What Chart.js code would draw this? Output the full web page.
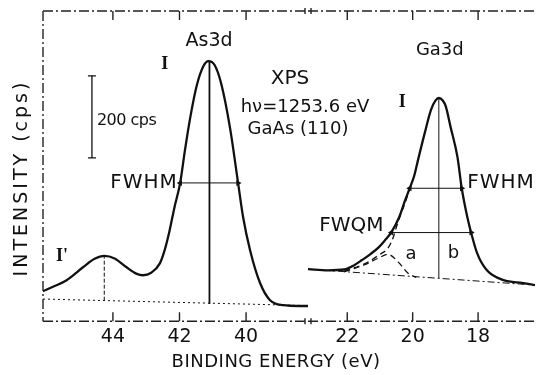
<!DOCTYPE html>
<html>
<head>
<meta charset="utf-8">
<script src="https://cdn.jsdelivr.net/npm/chart.js@4"></script>
<style>
  html, body { margin: 0; padding: 0; background: #fff; }
  #wrap { position: relative; width: 539px; height: 375px; }
  #wrap canvas { position: absolute; left: 0; top: 0; }
</style>
</head>
<body>
<div id="wrap">
  <canvas id="asPanel" width="539" height="375"></canvas>
  <canvas id="gaPanel" width="539" height="375"></canvas>
</div>
<script>
// x: binding energy (eV), y: intensity (cps above the lower frame)
const leftTicks = [44, 42, 40];
const rightTicks = [22, 20, 18];

// As 3d spectrum
const asEnergy = [46.10, 45.80, 45.39, 44.89, 44.55, 44.26, 43.95, 43.60, 43.30, 43.10, 42.85, 42.59, 42.45, 42.30, 42.15, 41.98, 41.83, 41.68, 41.48, 41.28, 41.13, 40.95, 40.75, 40.48, 40.24, 40.09, 39.88, 39.58, 39.28, 38.89, 38.38, 38.14];
const asCounts = [73, 84, 100, 132, 152, 159, 153, 132, 116, 112, 118, 141, 172, 220, 278, 337, 420, 495, 575, 622, 634, 625, 580, 470, 337, 254, 173, 93, 51, 39, 37, 37];
const asBaseEnergy = [46.10, 38.14];
const asBaseCounts = [54, 38];
const asSatLineEnergy = [44.26, 44.26];
const asSatLineCounts = [50, 159];
const asPeakLineEnergy = [41.10, 41.10];
const asPeakLineCounts = [42, 634];
const asFwhmEnergy = [41.98, 40.24];
const asFwhmCounts = [337, 337];
const scaleBarEnergy = [44.63, 44.63];
const scaleBarCounts = [398, 598];

// Ga 3d spectrum
const gaEnergy = [23.20, 22.60, 22.09, 21.80, 21.55, 21.30, 21.04, 20.85, 20.65, 20.41, 20.23, 20.09, 19.95, 19.83, 19.63, 19.44, 19.30, 19.20, 19.08, 18.99, 18.84, 18.63, 18.50, 18.33, 18.21, 18.03, 17.73, 17.22, 16.62, 16.26];
const gaCounts = [127, 124, 126, 136, 149, 163, 180, 197, 217, 254, 295, 324, 355, 395, 459, 515, 538, 544, 538, 524, 473, 400, 324, 254, 215, 166, 124, 100, 93, 88];
const gaBulkEnergy = [22.09, 21.44, 21.04, 20.74, 20.59, 20.50, 20.35, 20.20, 20.09];
const gaBulkCounts = [122, 141, 161, 180, 205, 229, 263, 295, 324];
const gaSurfEnergy = [22.09, 21.49, 21.04, 20.74, 20.44, 20.14, 19.89];
const gaSurfCounts = [120, 137, 154, 163, 144, 117, 107];
const gaBaseEnergy = [23.20, 16.26];
const gaBaseCounts = [127, 88];
const gaPeakLineEnergy = [19.20, 19.20];
const gaPeakLineCounts = [105, 544];
const gaFwhmEnergy = [20.09, 18.50];
const gaFwhmCounts = [324, 324];
const gaFwqmEnergy = [20.65, 18.21];
const gaFwqmCounts = [216, 216];

const INK = "#111";
const FONT = "'DejaVu Sans'";
const ROMAN = "bold 18px 'Liberation Serif'";
Chart.defaults.font.family = FONT;
Chart.defaults.color = INK;

function pts(xs, ys) {
  return xs.map((v, i) => ({ x: v, y: ys[i] }));
}

function line(xs, ys, extra) {
  return Object.assign({
    data: pts(xs, ys),
    showLine: true,
    borderColor: INK,
    backgroundColor: INK,
    borderWidth: 1,
    pointRadius: 0,
    fill: false
  }, extra);
}

function arrow(xs, ys) {
  return line(xs, ys, {
    pointStyle: "triangle",
    pointRadius: 3.5,
    pointRotation: [-90, 90],
    pointBackgroundColor: INK,
    pointBorderColor: INK,
    pointBorderWidth: 0
  });
}

// dash-dot frame, inward ticks, axis break
const frame = {
  id: "frame",
  beforeDatasetsDraw(chart, args, opts) {
    const { ctx, chartArea: a, scales: { x } } = chart;
    ctx.save();
    ctx.strokeStyle = "#222";
    ctx.lineWidth = 1.4;
    ctx.setLineDash([10, 3, 2, 3]);
    ctx.beginPath();
    ctx.moveTo(a.left, a.top); ctx.lineTo(a.right, a.top);
    ctx.moveTo(a.left, a.bottom); ctx.lineTo(a.right, a.bottom);
    if (opts.leftEdge) { ctx.moveTo(a.left, a.top); ctx.lineTo(a.left, a.bottom); }
    ctx.stroke();
    ctx.setLineDash([]);
    ctx.beginPath();
    for (const t of x.ticks) {
      const px = x.getPixelForValue(t.value);
      ctx.moveTo(px, a.top); ctx.lineTo(px, a.top + 9);
      ctx.moveTo(px, a.bottom); ctx.lineTo(px, a.bottom - 9);
    }
    if (opts.breakRight) {
      for (const yy of [a.top, a.bottom]) {
        ctx.moveTo(a.right - 3, yy - 3); ctx.lineTo(a.right - 3, yy + 3);
        ctx.moveTo(a.right + 3, yy - 3); ctx.lineTo(a.right + 3, yy + 3);
      }
    }
    ctx.stroke();
    ctx.restore();
  }
};

// text notes placed at data coordinates
const notes = {
  id: "notes",
  afterDatasetsDraw(chart, args, opts) {
    const { ctx, chartArea: a, scales: { x, y } } = chart;
    ctx.save();
    ctx.fillStyle = INK;
    ctx.textBaseline = "middle";
    for (const n of opts.items || []) {
      ctx.font = n.font || "18px " + FONT;
      ctx.textAlign = n.align || "center";
      ctx.letterSpacing = (n.spacing || 0) + "px";
      ctx.fillText(n.text, x.getPixelForValue(n.at[0]), y.getPixelForValue(n.at[1]));
    }
    if (opts.yTitle) {
      ctx.font = "19px " + FONT;
      ctx.textAlign = "center";
      ctx.letterSpacing = "3px";
      ctx.translate(a.left - 21, y.getPixelForValue(opts.yTitle.at));
      ctx.rotate(-Math.PI / 2);
      ctx.fillText(opts.yTitle.text, 0, 0);
    }
    ctx.restore();
  }
};

function xScale(min, max, ticks) {
  return {
    type: "linear",
    min: min,
    max: max,
    reverse: true,
    grid: { display: false, drawTicks: false },
    border: { display: false },
    afterBuildTicks: (s) => { s.ticks = ticks.map((v) => ({ value: v })); },
    ticks: { font: { size: 19 }, color: INK, padding: 4 }
  };
}

const yScale = { type: "linear", min: 0, max: 756, display: false };
const PAD_BOTTOM = 23;

new Chart(document.getElementById("asPanel"), {
  type: "scatter",
  data: {
    datasets: [
      line(asEnergy, asCounts, { borderWidth: 2.3, cubicInterpolationMode: "monotone" }),
      line(asBaseEnergy, asBaseCounts, { borderDash: [2, 3] }),
      line(asSatLineEnergy, asSatLineCounts, { borderDash: [4, 2] }),
      line(asPeakLineEnergy, asPeakLineCounts, { borderWidth: 1.8 }),
      arrow(asFwhmEnergy, asFwhmCounts),
      line(scaleBarEnergy, scaleBarCounts, { pointStyle: "line", pointRadius: 4, pointBorderWidth: 1.3, borderWidth: 1.3 })
    ]
  },
  options: {
    responsive: false,
    animation: false,
    devicePixelRatio: 1,
    layout: { padding: { left: 43, right: 231, top: 11, bottom: PAD_BOTTOM } },
    scales: { x: xScale(38.14, 46.10, leftTicks), y: yScale },
    plugins: {
      legend: { display: false },
      tooltip: { enabled: false },
      frame: { leftEdge: true, breakRight: true },
      notes: {
        yTitle: { text: "INTENSITY (cps)", at: 349 },
        items: [
          { text: "As3d", at: [41.11, 683], font: "19px " + FONT },
          { text: "I", at: [42.44, 627], font: ROMAN },
          { text: "XPS", at: [38.68, 590], font: "20px " + FONT },
          { text: "h\u03bd=1253.6 eV", at: [38.23, 522] },
          { text: "GaAs (110)", at: [38.44, 468] },
          { text: "200 cps", at: [44.48, 488], align: "left", font: "16px " + FONT, spacing: -0.5 },
          { text: "FWHM", at: [42.05, 337], align: "right", font: "20px " + FONT, spacing: 1 },
          { text: "I'", at: [45.53, 159], font: ROMAN },
          { text: "BINDING ENERGY (eV)", at: [39.1, -100], spacing: 0.5 }
        ]
      }
    }
  },
  plugins: [frame, notes]
});

new Chart(document.getElementById("gaPanel"), {
  type: "scatter",
  data: {
    datasets: [
      line(gaEnergy, gaCounts, { borderWidth: 2.3, cubicInterpolationMode: "monotone" }),
      line(gaBaseEnergy, gaBaseCounts, { borderDash: [7, 3, 2, 3] }),
      line(gaBulkEnergy, gaBulkCounts, { borderWidth: 1.3, borderDash: [6, 4], cubicInterpolationMode: "monotone" }),
      line(gaSurfEnergy, gaSurfCounts, { borderWidth: 1.3, borderDash: [6, 4], tension: 0.35 }),
      line(gaPeakLineEnergy, gaPeakLineCounts),
      arrow(gaFwhmEnergy, gaFwhmCounts),
      arrow(gaFwqmEnergy, gaFwqmCounts)
    ]
  },
  options: {
    responsive: false,
    animation: false,
    devicePixelRatio: 1,
    layout: { padding: { left: 308, right: 0, top: 11, bottom: PAD_BOTTOM } },
    scales: { x: xScale(16.26, 23.20, rightTicks), y: yScale },
    plugins: {
      legend: { display: false },
      tooltip: { enabled: false },
      frame: { leftEdge: false, breakRight: false },
      notes: {
        items: [
          { text: "Ga3d", at: [19.17, 659] },
          { text: "I", at: [20.32, 534], font: ROMAN },
          { text: "FWHM", at: [18.33, 337], align: "left", font: "20px " + FONT, spacing: 1 },
          { text: "FWQM", at: [20.89, 232], align: "right", font: "20px " + FONT },
          { text: "a", at: [20.05, 163] },
          { text: "b", at: [18.75, 166] }
        ]
      }
    }
  },
  plugins: [frame, notes]
});
</script>
</body>
</html>
